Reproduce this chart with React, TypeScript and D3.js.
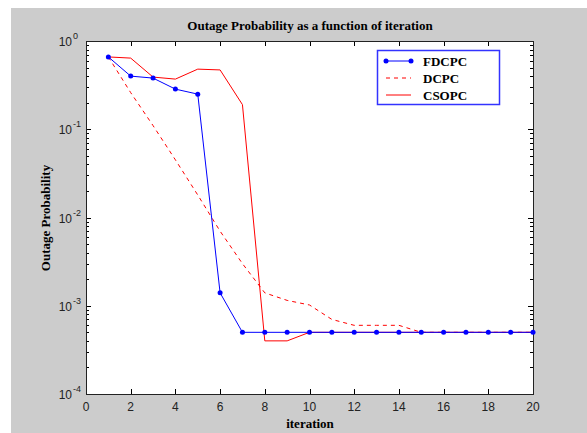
import * as d3 from "d3";
import { useEffect, useRef } from "react";

// iteration index, 1..20
const iterations = [1, 2, 3, 4, 5, 6, 7, 8, 9, 10, 11, 12, 13, 14, 15, 16, 17, 18, 19, 20];

// outage probability per iteration
const fdcpc = [0.66, 0.4, 0.38, 0.285, 0.25, 0.0014, 0.0005, 0.0005, 0.0005, 0.0005, 0.0005, 0.0005, 0.0005, 0.0005, 0.0005, 0.0005, 0.0005, 0.0005, 0.0005, 0.0005];
const dcpc = [0.66, 0.26, 0.11, 0.045, 0.018, 0.007, 0.003, 0.0014, 0.00115, 0.00102, 0.0007, 0.0006, 0.0006, 0.0006, 0.0005, 0.0005, 0.0005, 0.0005, 0.0005, 0.0005];
const csopc = [0.66, 0.64, 0.39, 0.37, 0.48, 0.47, 0.19, 0.0004, 0.0004, 0.0005, 0.0005, 0.0005, 0.0005, 0.0005, 0.0005, 0.0005, 0.0005, 0.0005, 0.0005, 0.0005];

const xTicks = [0, 2, 4, 6, 8, 10, 12, 14, 16, 18, 20];
const yExponents = [0, -1, -2, -3, -4];
const legendNames = ["FDCPC", "DCPC", "CSOPC"];

const App = () => {
  const ref = useRef<SVGSVGElement>(null);

  useEffect(() => {
    const svg = d3.select(ref.current);
    svg.selectAll("*").remove();

    const margin = { left: 86, top: 41, right: 533, bottom: 394 };
    const x = d3.scaleLinear().domain([0, 20]).range([margin.left, margin.right]);
    const y = d3.scaleLog().domain([1e-4, 1]).range([margin.bottom, margin.top]);

    // figure background
    svg.append("rect").attr("x", 11).attr("y", 8).attr("width", 576).attr("height", 425).attr("fill", "#cccccc");
    svg.append("rect")
      .attr("x", margin.left).attr("y", margin.top)
      .attr("width", margin.right - margin.left).attr("height", margin.bottom - margin.top)
      .attr("fill", "#ffffff");

    // ticks (inward, on all four sides)
    const tk = svg.append("g").attr("stroke", "#000").attr("stroke-width", 1);
    xTicks.forEach((t) => {
      const px = Math.round(x(t)) + 0.5;
      tk.append("line").attr("x1", px).attr("x2", px).attr("y1", margin.bottom).attr("y2", margin.bottom - 5);
      tk.append("line").attr("x1", px).attr("x2", px).attr("y1", margin.top).attr("y2", margin.top + 5);
    });
    for (let e = -4; e <= 0; e++) {
      for (let m = 1; m <= 9; m++) {
        const v = m * Math.pow(10, e);
        if (v > 1 || (e === 0 && m > 1)) continue;
        const py = Math.round(y(v)) + 0.5;
        const len = m === 1 ? 5 : 3;
        tk.append("line").attr("x1", margin.left).attr("x2", margin.left + len).attr("y1", py).attr("y2", py);
        tk.append("line").attr("x1", margin.right).attr("x2", margin.right - len).attr("y1", py).attr("y2", py);
      }
    }

    // frame
    svg.append("rect")
      .attr("x", margin.left + 0.5).attr("y", margin.top + 0.5)
      .attr("width", margin.right - margin.left).attr("height", margin.bottom - margin.top)
      .attr("fill", "none").attr("stroke", "#222").attr("stroke-width", 1);

    // tick labels
    const tickFont = "'Liberation Sans', Arial, sans-serif";
    svg.append("g").selectAll("text").data(xTicks).join("text")
      .attr("x", (d) => x(d)).attr("y", 411)
      .attr("text-anchor", "middle").attr("font-family", tickFont).attr("font-size", 12).attr("fill", "#222")
      .text((d) => d);
    const yl = svg.append("g").selectAll("g").data(yExponents).join("g")
      .attr("transform", (d) => `translate(72,${y(Math.pow(10, d)) + 5})`);
    yl.append("text").attr("text-anchor", "end").attr("font-family", tickFont).attr("font-size", 12).attr("fill", "#222").text("10");
    yl.append("text").attr("x", 1).attr("y", -7).attr("font-family", tickFont).attr("font-size", 9).attr("fill", "#222").text((d) => d);

    // data lines
    const line = d3.line<number>().x((_, i) => x(iterations[i])).y((d) => y(d));
    const plot = svg.append("g");
    plot.append("path").datum(dcpc).attr("d", line).attr("fill", "none").attr("stroke", "#ff0000").attr("stroke-width", 1).attr("stroke-dasharray", "4,4");
    plot.append("path").datum(csopc).attr("d", line).attr("fill", "none").attr("stroke", "#ff0000").attr("stroke-width", 1);
    plot.append("path").datum(fdcpc).attr("d", line).attr("fill", "none").attr("stroke", "#0000ff").attr("stroke-width", 1);
    plot.selectAll("circle").data(fdcpc).join("circle")
      .attr("cx", (_, i) => x(iterations[i])).attr("cy", (d) => y(d)).attr("r", 2.5).attr("fill", "#0000ff");

    // legend
    const lg = svg.append("g");
    lg.append("rect").attr("x", 377.5).attr("y", 50.5).attr("width", 122).attr("height", 54)
      .attr("fill", "#fff").attr("stroke", "#3333ff").attr("stroke-width", 1.5);
    const styles = [
      { color: "#0000ff", dash: null, dot: true },
      { color: "#ff0000", dash: "4,4", dot: false },
      { color: "#ff0000", dash: null, dot: false },
    ];
    legendNames.forEach((name, i) => {
      const ly = 61 + i * 17;
      const s = styles[i];
      const l = lg.append("line").attr("x1", 386).attr("x2", 411).attr("y1", ly).attr("y2", ly)
        .attr("stroke", s.color).attr("stroke-width", 1);
      if (s.dash) l.attr("stroke-dasharray", s.dash);
      if (s.dot) {
        lg.append("circle").attr("cx", 386).attr("cy", ly).attr("r", 2.5).attr("fill", s.color);
        lg.append("circle").attr("cx", 411).attr("cy", ly).attr("r", 2.5).attr("fill", s.color);
      }
      lg.append("text").attr("x", 423).attr("y", ly + 5)
        .attr("font-family", "'Liberation Serif', 'Times New Roman', serif").attr("font-weight", "bold")
        .attr("font-size", 13).attr("fill", "#000").text(name);
    });

    // titles
    const serif = "'Liberation Serif', 'Times New Roman', serif";
    svg.append("text").attr("x", 310).attr("y", 30).attr("text-anchor", "middle")
      .attr("font-family", serif).attr("font-weight", "bold").attr("font-size", 13)
      .text("Outage Probability as a function of iteration");
    svg.append("text").attr("x", 310).attr("y", 428).attr("text-anchor", "middle")
      .attr("font-family", serif).attr("font-weight", "bold").attr("font-size", 13)
      .text("iteration");
    svg.append("text").attr("transform", "translate(50,218) rotate(-90)").attr("text-anchor", "middle")
      .attr("font-family", serif).attr("font-weight", "bold").attr("font-size", 13)
      .text("Outage Probability");
  }, []);

  return (
    <svg
      ref={ref}
      width={587}
      height={433}
      style={{ position: "absolute", left: 0, top: 0, display: "block", background: "#fff" }}
    />
  );
};

export default App;
